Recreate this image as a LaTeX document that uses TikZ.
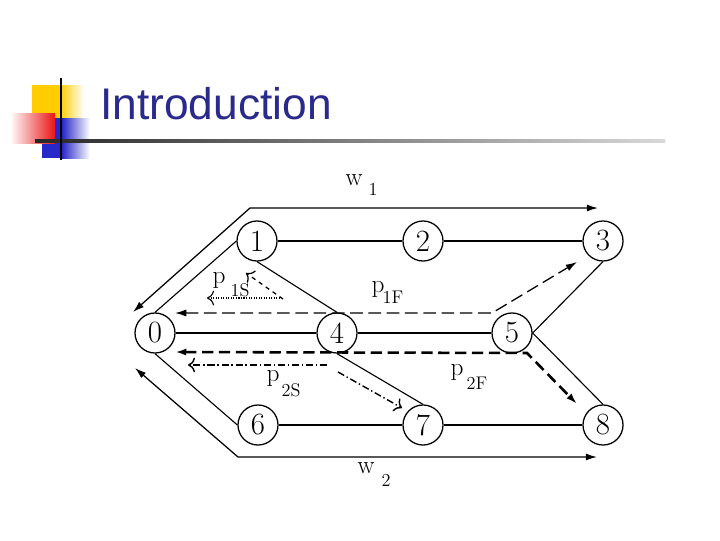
\documentclass[tikz,border=0pt]{standalone}
\usepackage{fontspec}
\newfontfamily\titlefont{Liberation Sans}
\usetikzlibrary{arrows.meta}
\definecolor{titleblue}{RGB}{42,42,140}
\definecolor{decoyellow}{RGB}{255,204,0}
\definecolor{decoblue}{RGB}{40,40,200}
\definecolor{decored}{RGB}{235,20,20}

\begin{document}
\begin{tikzpicture}[x=0.025cm,y=-0.025cm,
  vertex/.style={draw,circle,line width=0.9pt,minimum size=1cm,inner sep=0pt,
    fill=white,font=\fontsize{22}{22}\selectfont},
  lbl/.style={font=\fontsize{18}{18}\selectfont,inner sep=0pt},
  sub/.style={font=\fontsize{13}{13}\selectfont,inner sep=0pt},
  flow/.style={line width=0.9pt,arrows={Latex[length=8pt,width=5pt]-Latex[length=8pt,width=5pt]}}]
  \useasboundingbox (0,0) rectangle (720,540);
  \fill[white] (0,0) rectangle (720,540);
  % title decoration
  \fill[decoyellow] (32,85) rectangle (60,120);
  \shade[left color=decoyellow,right color=white] (60,85) rectangle (84,120);
  \fill[decoblue] (42,118) rectangle (62,158);
  \shade[left color=decoblue,right color=white] (62,118) rectangle (90,158);
  \shade[left color=white,right color=decored] (10,113) rectangle (55,143);
  \shade[left color=black!85,right color=black!15] (35,139.5) rectangle (665,142.5);
  \draw[line width=2pt] (61,78) -- (61,160);
  \node[anchor=base west,inner sep=0pt,text=titleblue,
    font=\titlefont\fontsize{31.5}{31.5}\selectfont] (title) at (100,119) {Introduction};

  % network
  \foreach \n/\x/\y in {0/155/333,1/257/241,2/423/241,3/603/241,4/337/333,
                        5/512/333,6/258/425,7/423/425,8/603/425}
    \node[vertex] (n\n) at (\x,\y) {\n};
  \foreach \a/\b in {0.north/1.west,1/2,2/3,0/4,4/5,1.south/4.north,5.east/3.south,
                     5.east/8.north,0.south/6.west,6/7,7/8,4.south/7.north}
    \draw[line width=0.8pt] (n\a) -- (n\b);

  % w1, w2
  \coordinate (w1a) at (133,312); \coordinate (w1c) at (250,208);
  \coordinate (w1b) at (598,208);
  \draw[flow] (w1a) -- (w1c) -- (w1b);
  \coordinate (w2a) at (135,368); \coordinate (w2c) at (238,457);
  \coordinate (w2b) at (597,457);
  \draw[flow] (w2a) -- (w2c) -- (w2b);
  \node[lbl] (w1) at (354,180) {w}; \node[sub] at (373,189) {1};
  \node[lbl] (w2) at (366,468) {w}; \node[sub] at (386,480) {2};

  % p1F, p2F
  \coordinate (f1a) at (175,313); \coordinate (f1c) at (492,313);
  \coordinate (f1b) at (577,262);
  \draw[flow,dash pattern=on 9pt off 4pt] (f1a) -- (f1c) -- (f1b);
  \coordinate (f2a) at (175,352); \coordinate (f2c) at (527,353);
  \coordinate (f2b) at (577,404);
  \draw[flow,line width=1.8pt,dash pattern=on 8pt off 4pt] (f2a) -- (f2c) -- (f2b);
  \node[lbl] (p1F) at (378,289) {p}; \node[sub] at (393,297) {1F};
  \node[lbl] (p2F) at (457,372) {p}; \node[sub] at (477,383) {2F};

  % p1S, p2S
  \coordinate (s1o) at (283,299);
  \draw[dashed,line width=0.9pt,-{To[length=5pt]}] (s1o) -- (246,273);
  \draw[densely dotted,line width=0.8pt,-{To[length=5pt]}] (280,298) -- (207,298);
  \draw[dash pattern=on 5pt off 2pt on 1pt off 2pt,line width=1pt,-{To[length=5pt]}] (327,365) -- (188,365);
  \draw[dash pattern=on 5pt off 2pt on 1pt off 2pt,line width=1pt,-{To[length=5pt]}] (338,372) -- (402,408);
  \node[lbl] (p1S) at (219,280) {p}; \node[sub] at (240,290) {1S};
  \node[lbl] (p2S) at (273,378) {p}; \node[sub] at (291,390) {2S};
\end{tikzpicture}
\end{document}
